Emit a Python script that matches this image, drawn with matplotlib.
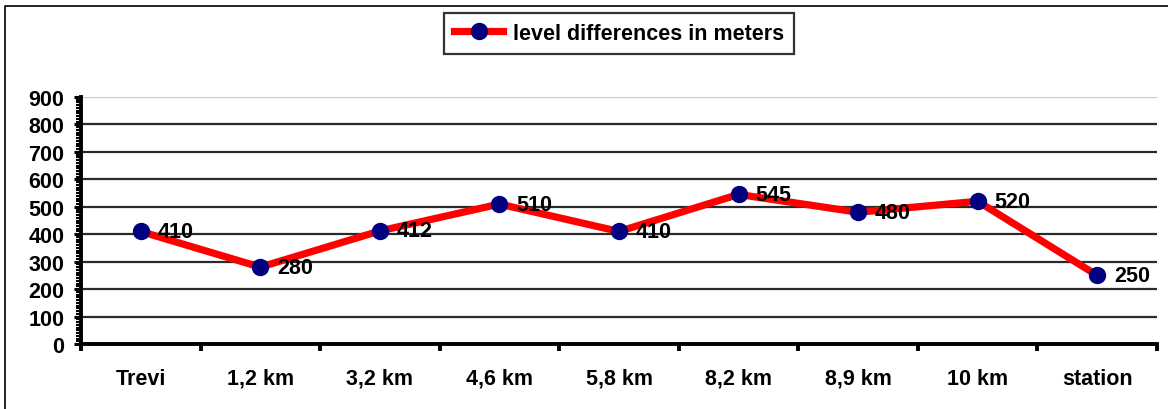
import matplotlib
matplotlib.use("Agg")
from matplotlib import pyplot as plt
from matplotlib.lines import Line2D
from matplotlib.ticker import MultipleLocator, FixedLocator, NullFormatter

# data
places = ["Trevi", "1,2 km", "3,2 km", "4,6 km", "5,8 km", "8,2 km", "8,9 km", "10 km", "station"]
levels = [410, 280, 412, 510, 410, 545, 480, 520, 250]
series_name = "level differences in meters"

plt.rcParams['font.family'] = ['Liberation Sans', 'DejaVu Sans']
plt.rcParams['font.weight'] = 'bold'
FS = 15.5

fig = plt.figure(figsize=(11.68, 4.10), dpi=100)
ax = fig.add_axes([81 / 1168, 1 - 345 / 410, (1157 - 81) / 1168, (345 - 98) / 410])

# outer chart border (only top and left are visible in the crop)
fig.add_artist(Line2D([5 / 1168, 5 / 1168, 1.01], [-0.01, 1 - 7 / 410, 1 - 7 / 410],
                      transform=fig.transFigure, color="black", lw=1.2))

x = list(range(len(places)))

# grid lines
for v in range(100, 900, 100):
    ax.axhline(v, color="#2a2a2a", lw=1.6, zorder=1)
ax.axhline(900, color="#cccccc", lw=1.0, zorder=1)

ax.plot(x, levels, color="#ff0000", lw=5.2, marker="o", markersize=11.5,
        markerfacecolor="#000080", markeredgecolor="#000080", zorder=3,
        label=series_name)

for xi, v in zip(x, levels):
    ax.annotate(str(v), (xi, v), xytext=(12, 0), textcoords="offset points",
                ha="left", va="center", fontsize=FS, fontweight="bold", zorder=4)

ax.set_xlim(-0.5, len(places) - 0.5)
ax.set_ylim(0, 900)

# x axis: ticks on category boundaries, labels centred
ax.xaxis.set_major_locator(FixedLocator([i - 0.5 for i in range(len(places) + 1)]))
ax.xaxis.set_major_formatter(NullFormatter())
ax.xaxis.set_minor_locator(FixedLocator(x))
ax.set_xticklabels(places, minor=True)
ax.tick_params(axis="x", which="major", direction="out", length=5, width=2.8, color="black")
ax.tick_params(axis="x", which="minor", length=0, pad=17, labelsize=FS)

# y axis
ax.yaxis.set_major_locator(MultipleLocator(100))
ax.yaxis.set_minor_locator(MultipleLocator(10))
ax.tick_params(axis="y", which="major", direction="out", length=5, width=2.2, labelsize=FS, pad=7)
ax.tick_params(axis="y", which="minor", direction="out", length=3.5, width=1.5)
for lab in ax.get_yticklabels() + ax.get_xticklabels(minor=True):
    lab.set_fontweight("bold")

for s in ["top", "right"]:
    ax.spines[s].set_visible(False)
for s in ["left", "bottom"]:
    ax.spines[s].set_linewidth(2.8)
    ax.spines[s].set_color("black")

leg = fig.legend(loc="center", bbox_to_anchor=(619 / 1168, 1 - 34.5 / 410),
                 frameon=True, fancybox=False, handlelength=2.3,
                 handletextpad=0.45, borderpad=0.47, prop={"weight": "bold", "size": FS})
leg.get_frame().set_edgecolor("black")
leg.get_frame().set_linewidth(1.6)

fig.savefig("out.png", dpi=100)
